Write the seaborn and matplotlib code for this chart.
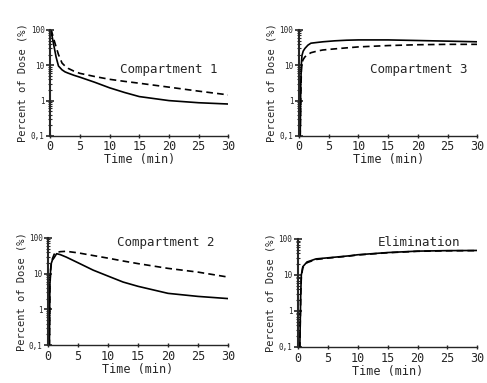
import numpy as np
import pandas as pd
import matplotlib
matplotlib.use("Agg")
import matplotlib.pyplot as plt
import seaborn as sns
from matplotlib.ticker import FixedLocator, LogLocator, NullFormatter

# ---- data ----
titles = ["Compartment 1", "Compartment 3", "Compartment 2", "Elimination"]

c1_t = [0, 0.3, 0.5, 1, 1.4, 2, 2.5, 3, 4, 5, 7.5, 10, 12.5, 15, 20, 25, 30]
c1_solid = [100, 70, 46, 17, 9.5, 7.4, 6.5, 6.0, 5.2, 4.6, 3.3, 2.3, 1.7, 1.3, 1.0, 0.87, 0.8]
c1_dash = [100, 85, 63, 33, 20, 11.5, 9.5, 8.2, 6.8, 5.9, 4.8, 4.0, 3.5, 3.1, 2.4, 1.85, 1.45]

c3_t = [0, 0.2, 0.3, 0.4, 0.5, 0.7, 1, 1.5, 2, 3, 4, 6, 8, 10, 15, 20, 25, 30]
c3_solid = [0.1, 0.1, 3, 11, 19, 25, 30, 37, 42, 44, 46, 49, 51, 52, 52, 50, 48, 46]
c3_dash = [0.1, 0.1, 1.5, 7, 12, 14.5, 17.3, 20, 22.6, 25, 27, 29, 31, 33, 36, 38, 39, 39]

c2_t = [0, 0.2, 0.28, 0.4, 0.5, 0.7, 1, 1.4, 2, 3, 5, 7.5, 10, 12.5, 15, 20, 25, 30]
c2_solid = [0.1, 0.1, 5, 13, 19, 24, 28, 36, 34, 29, 20, 12.5, 8.5, 5.8, 4.4, 2.8, 2.3, 2.0]
c2_dash = [0.1, 0.1, 4, 12, 18, 26, 35, 39, 41, 42, 38, 32, 27, 22.5, 19, 14, 11, 8]

el_t = [0, 0.3, 0.45, 0.55, 0.8, 1.5, 3, 5, 8.5, 10, 15, 20, 25, 30]
el_solid = [0.1, 0.1, 3, 10, 17, 23, 28, 30, 34, 36.5, 42, 46, 47.5, 48]
el_dash = [0.1, 0.1, 2.5, 9, 16, 22, 27, 29.5, 33.5, 36, 41.5, 45.5, 47, 47.5]

y_ticks = [0.1, 1, 10, 100]
y_labels = ["0,1", "1", "10", "100"]
x_ticks = [0, 5, 10, 15, 20, 25, 30]

sns.set_style("ticks")
plt.rcParams['font.family'] = ['DejaVu Sans Mono', 'DejaVu Sans']

fig = plt.figure(figsize=(4.87, 3.83), dpi=100)

positions = [
    [0.103, 0.645, 0.366, 0.277],
    [0.614, 0.645, 0.366, 0.277],
    [0.099, 0.099, 0.369, 0.280],
    [0.612, 0.094, 0.368, 0.282],
]
series = [
    (c1_t, c1_solid, c1_dash),
    (c3_t, c3_solid, c3_dash),
    (c2_t, c2_solid, c2_dash),
    (el_t, el_solid, el_dash),
]
label_pos = [(11.8, 7.5), (12.0, 7.5), (11.5, 72), (13.3, 80)]

for pos, (t, s, d), title, lp in zip(positions, series, titles, label_pos):
    ax = fig.add_axes(pos)
    df = pd.DataFrame({"t": t + t, "v": s + d,
                       "kind": ["solid"] * len(t) + ["dash"] * len(t)})
    sns.lineplot(data=df, x="t", y="v", style="kind",
                 dashes={"solid": "", "dash": (4, 2.5)},
                 color="black", linewidth=1.2, legend=False, ax=ax,
                 estimator=None, sort=False)
    ax.set_yscale("log")
    ax.set_xlim(0, 30)
    ax.set_ylim(0.1, 100)
    ax.yaxis.set_major_locator(FixedLocator(y_ticks))
    ax.set_yticklabels(y_labels)
    ax.yaxis.set_minor_locator(LogLocator(base=10, subs=np.arange(2, 10)))
    ax.yaxis.set_minor_formatter(NullFormatter())
    ax.set_xticks(x_ticks)
    ax.set_xticklabels([str(x) for x in x_ticks])
    ax.tick_params(axis="y", which="major", direction="inout", length=6,
                   width=1.2, labelsize=5.5, pad=1)
    ax.tick_params(axis="y", which="minor", direction="inout", length=3, width=0.8)
    ax.tick_params(axis="x", which="major", direction="inout", length=2.5,
                   width=1.0, labelsize=8.5, pad=2)
    for side in ("top", "right"):
        ax.spines[side].set_visible(False)
    ax.spines["left"].set_linewidth(1.5)
    ax.spines["bottom"].set_linewidth(1.0)
    ax.set_xlabel("Time (min)", fontsize=8.5, labelpad=0)
    ax.set_ylabel("Percent of Dose (%)", fontsize=7.5, labelpad=2)
    ax.text(lp[0], lp[1], title, fontsize=9, ha="left", va="center")

fig.savefig("out.png", dpi=100)
